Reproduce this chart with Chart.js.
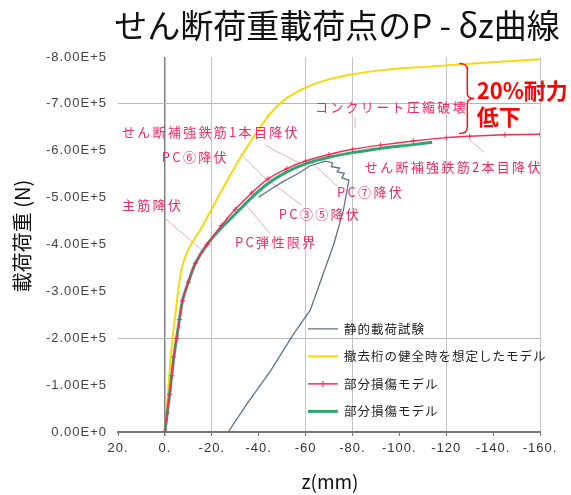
<!DOCTYPE html>
<html>
<head>
<meta charset="utf-8">
<script src="https://cdn.jsdelivr.net/npm/chart.js@4.4.1/dist/chart.umd.min.js"></script>
<style>
html, body { margin: 0; padding: 0; background: #ffffff; }
#wrap { width: 571px; height: 495px; }
</style>
</head>
<body>
<div id="wrap"><canvas id="c" width="571" height="495"></canvas></div>
<script>
// ---- Data: displacement z (mm) and load P (N) ----
const seriesNames = ['静的載荷試験', '撤去桁の健全時を想定したモデル', '部分損傷モデル', '部分損傷モデル'];

const testZ = [-27, -35, -45, -55, -62, -67, -72, -76, -78.5, -75.5, -76.5, -73.5, -74.5, -71, -71.5, -68.5, -62, -57, -50, -44, -40];
const testP = [0, -0.6e5, -1.3e5, -2.1e5, -2.6e5, -3.3e5, -4.0e5, -4.7e5, -5.37e5, -5.42e5, -5.52e5, -5.55e5, -5.63e5, -5.66e5, -5.74e5, -5.78e5, -5.68e5, -5.52e5, -5.33e5, -5.14e5, -5.01e5];

const healthyZ = [0, -1.07, -2.77, -4.69, -5.97, -7.25, -8.96, -11.5, -15.8, -24.3, -32.9, -44.4, -50.8, -58.5, -67, -77.7, -92.6, -113.9, -139.5, -160];
const healthyP = [0, -0.68e5, -1.75e5, -2.6e5, -3.13e5, -3.5e5, -3.77e5, -4.03e5, -4.37e5, -5.16e5, -5.91e5, -6.76e5, -7.08e5, -7.31e5, -7.48e5, -7.61e5, -7.72e5, -7.8e5, -7.89e5, -7.95e5];

const damageAZ = [0, -1, -2, -3, -3.8, -5, -6.2, -7.5, -10, -13, -18, -24, -30, -37, -44, -52, -60, -70, -80, -92, -106, -120, -130, -145, -160];
const damageAP = [0, -0.4e5, -0.8e5, -1.2e5, -1.6e5, -2.0e5, -2.4e5, -2.8e5, -3.2e5, -3.6e5, -4.0e5, -4.4e5, -4.75e5, -5.1e5, -5.4e5, -5.62e5, -5.78e5, -5.92e5, -6.03e5, -6.12e5, -6.21e5, -6.28e5, -6.31e5, -6.34e5, -6.35e5];

const damageBZ = [0, -2, -3.8, -5, -7.5, -10, -13, -18, -24, -30, -37, -44, -52, -60, -70, -80, -92, -104, -114];
const damageBP = [0, -0.8e5, -1.6e5, -2.0e5, -2.8e5, -3.2e5, -3.6e5, -4.0e5, -4.35e5, -4.65e5, -5.0e5, -5.3e5, -5.55e5, -5.72e5, -5.86e5, -5.96e5, -6.05e5, -6.12e5, -6.18e5];

// ---- Axis ticks ----
const xTickValues = [20, 0, -20, -40, -60, -80, -100, -120, -140, -160];
const xTickLabels = ['20.', '0.', '-20.', '-40.', '-60', '-80.', '-100.', '-120', '-140.', '-160.'];
const yTickValues = [0, -1e5, -2e5, -3e5, -4e5, -5e5, -6e5, -7e5, -8e5];
const yTickLabels = ['0.00E+0', '-1.00E+5', '-2.00E+5', '-3.00E+5', '-4.00E+5', '-5.00E+5', '-6.00E+5', '-7.00E+5', '-8.00E+5'];

// ---- Text ----
const chartTitle = 'せん断荷重載荷点のP - δz曲線';
const xAxisTitle = 'z(mm)';
const yAxisTitle = '載荷荷重 (N)';

// Event labels, anchored in data units (z, P): left edge / vertical centre of text
const noteTexts = ['コンクリート圧縮破壊', 'せん断補強鉄筋1本目降伏', 'PC⑥降伏', 'せん断補強鉄筋2本目降伏', 'PC⑦降伏', 'PC③⑤降伏', '主筋降伏', 'PC弾性限界'];
const noteZ = [-64, 18.3, 1.3, -85.3, -73.4, -48.6, 18.3, -29.9];
const noteP = [-6.93e5, -6.40e5, -5.86e5, -5.65e5, -5.12e5, -4.65e5, -4.84e5, -4.05e5];

// Leader lines from labels to the curve: [z1, P1, z2, P2]
const leaders = [
  [-81.1, -6.72e5, -81.1, -6.48e5],
  [-42.7, -6.12e5, -57.2, -5.74e5],
  [-32.0, -5.95e5, -42.2, -5.44e5],
  [-58.4, -4.84e5, -42.2, -5.44e5],
  [-44.8, -4.24e5, -32.8, -4.95e5],
  [0, -4.56e5, -15.8, -3.88e5],
  [-73.4, -5.25e5, -61.4, -5.80e5],
  [-136.1, -5.97e5, -129.7, -6.25e5]
];

// Strength-drop bracket between the healthy and damaged curves
const dropLabel = ['20%耐力', '低下'];
const dropTopP = -7.86e5;
const dropBottomP = -6.37e5;

const toPoints = (zs, ps) => zs.map((z, i) => ({ x: z, y: ps[i] }));

const shownXGrid = [0, -20, -60, -80, -120, -160];
const shownYGrid = [-7e5, -2e5];

const overlay = {
  id: 'overlay',
  beforeDraw(chart) {
    // slightly spaced tick lettering
    chart.ctx.letterSpacing = '1px';
  },
  beforeDatasetsDraw(chart) {
    const { ctx, scales: { x, y } } = chart;
    ctx.save();
    ctx.strokeStyle = 'rgba(205,130,150,0.65)';
    ctx.lineWidth = 1;
    leaders.forEach(l => {
      ctx.beginPath();
      ctx.moveTo(x.getPixelForValue(l[0]), y.getPixelForValue(l[1]));
      ctx.lineTo(x.getPixelForValue(l[2]), y.getPixelForValue(l[3]));
      ctx.stroke();
    });
    ctx.restore();
  },
  afterDraw(chart) {
    const { ctx, scales: { x, y }, chartArea } = chart;
    ctx.save();
    ctx.letterSpacing = '0px';

    // Title
    ctx.fillStyle = '#111';
    ctx.font = '33px "Noto Sans CJK JP", "Noto Sans", sans-serif';
    ctx.textAlign = 'center';
    ctx.textBaseline = 'middle';
    ctx.fillText(chartTitle, 337, 25);

    // Axis titles
    ctx.font = '19px "Noto Sans CJK JP", "Noto Sans", sans-serif';
    ctx.fillText(xAxisTitle, (chartArea.left + chartArea.right) / 2 + 1, 482);
    ctx.save();
    ctx.font = '20px "Noto Sans CJK JP", "Noto Sans", sans-serif';
    ctx.translate(22, 236);
    ctx.rotate(-Math.PI / 2);
    ctx.fillText(yAxisTitle, 0, 0);
    ctx.restore();

    // Event labels
    ctx.fillStyle = '#ee2a62';
    ctx.font = '13px "Noto Sans CJK JP", sans-serif';
    ctx.textAlign = 'left';
    ctx.letterSpacing = '2.3px';
    noteTexts.forEach((t, i) => {
      ctx.fillText(t, x.getPixelForValue(noteZ[i]), y.getPixelForValue(noteP[i]));
    });
    ctx.letterSpacing = '0px';

    // Bracket
    const top = y.getPixelForValue(dropTopP);
    const bot = y.getPixelForValue(dropBottomP);
    const mid = (top + bot) / 2;
    const xl = x.getPixelForValue(-125.5);
    const xs = x.getPixelForValue(-129);
    const xt = x.getPixelForValue(-132);
    ctx.strokeStyle = '#ff1010';
    ctx.lineWidth = 1.5;
    ctx.beginPath();
    ctx.moveTo(xl, top);
    ctx.quadraticCurveTo(xs, top, xs, top + 6);
    ctx.lineTo(xs, mid - 5);
    ctx.quadraticCurveTo(xs, mid, xt, mid);
    ctx.quadraticCurveTo(xs, mid, xs, mid + 5);
    ctx.lineTo(xs, bot - 6);
    ctx.quadraticCurveTo(xs, bot, xl, bot);
    ctx.stroke();

    ctx.fillStyle = '#ff0000';
    ctx.font = 'bold 22px "Noto Sans CJK JP", sans-serif';
    ctx.fillText(dropLabel[0], x.getPixelForValue(-133), y.getPixelForValue(-7.29e5));
    ctx.fillText(dropLabel[1], x.getPixelForValue(-133), y.getPixelForValue(-6.72e5));

    // Legend
    const ds = chart.data.datasets;
    const lx = x.getPixelForValue(-61), ly0 = y.getPixelForValue(-2.2e5), step = 27.5;
    ctx.font = '12.5px "Noto Sans CJK JP", sans-serif';
    ctx.letterSpacing = '1px';
    ds.forEach((d, i) => {
      const yy = ly0 + i * step;
      ctx.strokeStyle = d.borderColor;
      ctx.lineWidth = d.borderWidth;
      ctx.beginPath();
      ctx.moveTo(lx, yy);
      ctx.lineTo(lx + 30, yy);
      ctx.stroke();
      if (d.pointRadius > 0) {
        ctx.lineWidth = 1.2;
        ctx.beginPath();
        ctx.moveTo(lx + 15, yy - 3); ctx.lineTo(lx + 15, yy + 3);
        ctx.stroke();
      }
      ctx.fillStyle = '#222';
      ctx.fillText(d.label, lx + 36, yy);
    });
    ctx.restore();
  }
};

new Chart(document.getElementById('c'), {
  type: 'scatter',
  data: {
    datasets: [
      { label: seriesNames[0], data: toPoints(testZ, testP), showLine: true, borderColor: '#5f7385', borderWidth: 1.3, pointRadius: 0, tension: 0, order: 4 },
      { label: seriesNames[1], data: toPoints(healthyZ, healthyP), showLine: true, borderColor: '#f5d90a', borderWidth: 2, pointRadius: 0, tension: 0.3, order: 3 },
      { label: seriesNames[2], data: toPoints(damageAZ, damageAP), showLine: true, borderColor: '#f0305a', backgroundColor: '#f0305a', borderWidth: 1.5, pointRadius: 2.5, pointStyle: 'cross', pointBorderWidth: 1, tension: 0.2, order: 1 },
      { label: seriesNames[3], data: toPoints(damageBZ, damageBP), showLine: true, borderColor: '#2ea66e', borderWidth: 3, pointRadius: 0, tension: 0.2, order: 2 }
    ]
  },
  options: {
    responsive: false,
    animation: false,
    layout: { padding: { top: 57, right: 31, left: 0, bottom: 0 } },
    plugins: { legend: { display: false }, tooltip: { enabled: false }, title: { display: false } },
    scales: {
      x: {
        type: 'linear', min: -160, max: 20, reverse: true,
        afterFit: s => { s.height = 63; },
        ticks: {
          stepSize: 20, padding: 5, color: '#333',
          font: { size: 13, family: '"Liberation Sans", Arial, sans-serif' },
          callback: v => { const i = xTickValues.indexOf(Math.round(v)); return i >= 0 ? xTickLabels[i] : ''; }
        },
        grid: {
          color: c => (c.tick && Math.round(c.tick.value) === 0) ? '#808080' : (c.tick && shownXGrid.includes(Math.round(c.tick.value)) ? '#c4c4c4' : 'rgba(0,0,0,0)'),
          lineWidth: c => (c.tick && Math.round(c.tick.value) === 0) ? 1.5 : 1,
          tickColor: '#777', tickLength: 4
        },
        border: { display: true, color: '#777', width: 2 }
      },
      y: {
        type: 'linear', min: -8e5, max: 0, reverse: true,
        afterFit: s => { s.width = 118; },
        ticks: {
          stepSize: 1e5, padding: 11, color: '#444',
          font: { size: 13, family: '"Liberation Sans", Arial, sans-serif' },
          callback: v => { const i = yTickValues.findIndex(t => Math.abs(t - v) < 1); return i >= 0 ? yTickLabels[i] : ''; }
        },
        grid: {
          color: c => (c.tick && shownYGrid.some(t => Math.abs(t - c.tick.value) < 1)) ? '#b8b8b8' : 'rgba(0,0,0,0)',
          drawTicks: false
        },
        border: { display: false }
      }
    }
  },
  plugins: [overlay]
});
</script>
</body>
</html>
